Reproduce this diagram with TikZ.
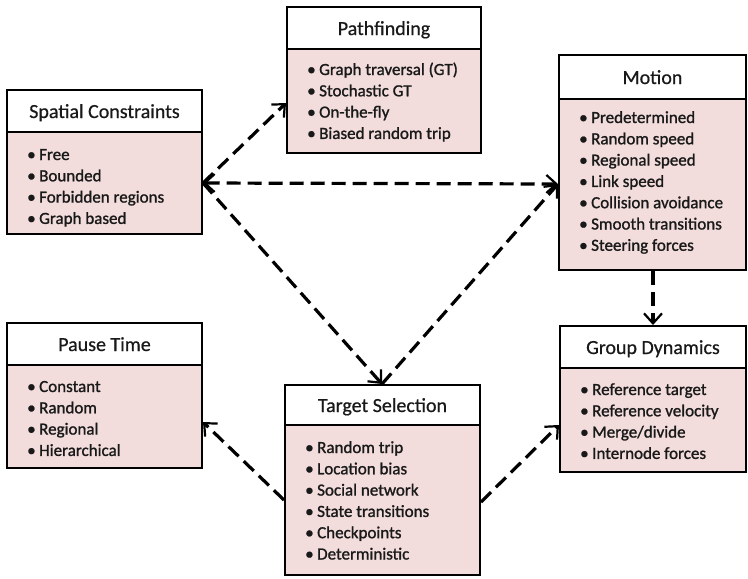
\documentclass[tikz,border=0pt]{standalone}
\usepackage{fontspec}
\setmainfont{Carlito}
\newfontfamily\itemfont{Carlito}[FakeBold=1.2]
\newfontfamily\titlefont{Carlito}[FakeBold=0.6]
\usetikzlibrary{arrows.meta}
\definecolor{bodypink}{RGB}{242,221,220}
\definecolor{ink}{RGB}{25,25,25}
\tikzset{
  boxline/.style={line width=2.6pt, draw=black},
  titletext/.style={font=\titlefont\fontsize{20}{24}\selectfont, text=ink, inner sep=0pt},
  itemtext/.style={font=\itemfont\fontsize{17}{21}\selectfont, text=ink, inner sep=0pt},
  >={Straight Barb[length=10pt,width=18pt,line width=2.2pt]},
  conn/.style={line width=3.2pt, dash pattern=on 14pt off 7pt, ->},
}
\newcommand\umlbox[9]{%
  \fill[bodypink] (#2,#5) rectangle (#4,#6);
  \draw[boxline] (#2,#3) rectangle (#4,#6);
  \draw[boxline] (#2,#5) -- (#4,#5);
  \node[titletext, anchor=base] (#1-title) at ({(#2+#4)/2},{(#3+#5)/2+7}) {#7};
  \foreach \t [count=\n] in {#9} {
    \node[itemtext, anchor=base west] (#1-item\n) at ({#2+20},{#5+#8+(\n-1)*21.3}) {\makebox[12pt][l]{•}\t};
  }
}
\begin{document}
\begin{tikzpicture}[x=1pt,y=-1pt]
\useasboundingbox (0,0) rectangle (748,579);
\umlbox{sc}{7}{90}{202}{132}{234}{Spatial Constraints}{28}{Free,Bounded,Forbidden regions,Graph based}
\umlbox{pf}{287}{7}{481}{49}{153}{Pathfinding}{26}{Graph traversal (GT),Stochastic GT,On-the-fly,Biased random trip}
\umlbox{mo}{559}{55}{746}{99}{270}{Motion}{24}{Predetermined,Random speed,Regional speed,Link speed,Collision avoidance,Smooth transitions,Steering forces}
\umlbox{pt}{7}{323}{202}{365}{468}{Pause Time}{27}{Constant,Random,Regional,Hierarchical}
\umlbox{ts}{285}{385}{480}{425}{575}{Target Selection}{28}{Random trip,Location bias,Social network,State transitions,Checkpoints,Deterministic}
\umlbox{gd}{560}{326}{746}{368}{472}{Group Dynamics}{27}{Reference target,Reference velocity,Merge/divide,Internode forces}

\coordinate (sc-e) at (203,183);
\coordinate (pf-w) at (286,103);
\coordinate (mo-w) at (558,184);
\coordinate (ts-n) at (382,384);
\coordinate (mo-s) at (653,271);
\coordinate (gd-n) at (653,325);
\coordinate (pt-e) at (203,422);
\coordinate (ts-w) at (284,500);
\coordinate (ts-e) at (481,502);
\coordinate (gd-w) at (559,425);

\draw[conn] (sc-e) -- (pf-w);
\draw[conn, <->] (sc-e) -- (mo-w);
\draw[conn] (sc-e) -- (ts-n);
\draw[conn] (ts-n) -- (mo-w);
\draw[conn] (mo-s) -- (gd-n);
\draw[conn] (ts-w) -- (pt-e);
\draw[conn] (ts-e) -- (gd-w);
\end{tikzpicture}
\end{document}
